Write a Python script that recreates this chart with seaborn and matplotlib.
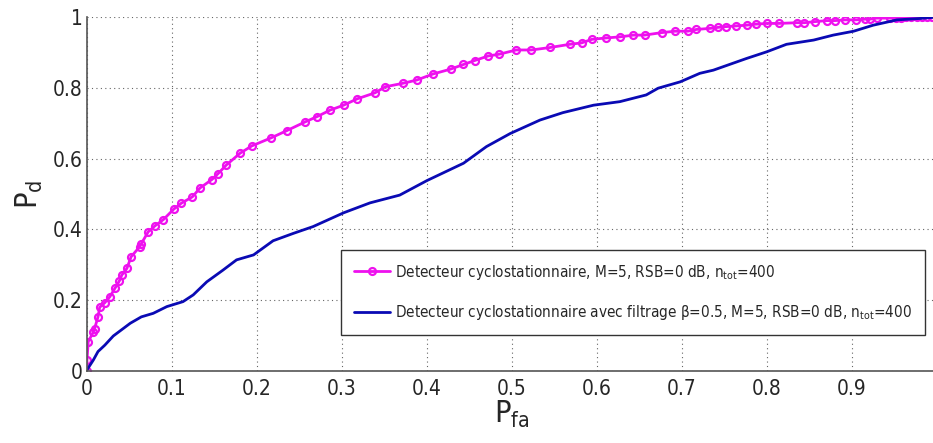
import numpy as np
import pandas as pd
import matplotlib
matplotlib.use('Agg')
import matplotlib.pyplot as plt
import seaborn as sns

# Courbes ROC
pfa_cyclo = [0.0, 0.0, 0.0015, 0.0075, 0.009, 0.013, 0.015, 0.021, 0.027, 0.033, 0.038,
             0.041, 0.047, 0.052, 0.062, 0.064, 0.072, 0.080, 0.090, 0.102, 0.111,
             0.124, 0.133, 0.147, 0.154, 0.164, 0.180, 0.194, 0.217, 0.235, 0.256,
             0.271, 0.286, 0.302, 0.318, 0.339, 0.351, 0.372, 0.388, 0.407, 0.428,
             0.443, 0.456, 0.472, 0.485, 0.505, 0.523, 0.545, 0.568, 0.582, 0.594,
             0.611, 0.627, 0.643, 0.656, 0.676, 0.692, 0.707, 0.717, 0.733, 0.743,
             0.752, 0.764, 0.776, 0.787, 0.800, 0.814, 0.835, 0.844, 0.856, 0.871,
             0.880, 0.892, 0.905, 0.915, 0.921, 0.929, 0.945, 0.952, 0.958, 0.964,
             0.970, 0.976, 0.982, 0.988, 0.994, 1.0]
pd_cyclo = [0.0, 0.03, 0.083, 0.11, 0.12, 0.153, 0.18, 0.193, 0.21, 0.234, 0.254,
            0.271, 0.29, 0.323, 0.351, 0.36, 0.393, 0.41, 0.428, 0.457, 0.474,
            0.492, 0.517, 0.541, 0.557, 0.582, 0.615, 0.636, 0.659, 0.679, 0.703,
            0.719, 0.737, 0.751, 0.769, 0.786, 0.803, 0.813, 0.822, 0.839, 0.853,
            0.866, 0.877, 0.890, 0.895, 0.907, 0.907, 0.914, 0.923, 0.927, 0.937,
            0.941, 0.944, 0.949, 0.949, 0.956, 0.960, 0.960, 0.965, 0.968, 0.971,
            0.973, 0.975, 0.977, 0.980, 0.982, 0.982, 0.984, 0.984, 0.987, 0.990,
            0.990, 0.992, 0.992, 0.994, 0.994, 0.997, 0.997, 0.998, 0.998, 0.999,
            0.999, 0.999, 1.0, 1.0, 1.0, 1.0]

pfa_filtre = [0.0, 0.0075, 0.013, 0.021, 0.031, 0.051, 0.064, 0.078, 0.094, 0.113,
              0.125, 0.141, 0.160, 0.176, 0.196, 0.219, 0.243, 0.266, 0.302, 0.333,
              0.368, 0.400, 0.443, 0.470, 0.498, 0.533, 0.560, 0.596, 0.627, 0.658,
              0.672, 0.698, 0.721, 0.737, 0.776, 0.800, 0.823, 0.855, 0.878, 0.902,
              0.925, 0.953, 0.980, 1.0]
pd_filtre = [0.003, 0.031, 0.055, 0.073, 0.099, 0.135, 0.153, 0.163, 0.182, 0.196,
             0.215, 0.252, 0.285, 0.314, 0.328, 0.368, 0.389, 0.408, 0.447, 0.475,
             0.497, 0.538, 0.587, 0.634, 0.671, 0.709, 0.730, 0.751, 0.761, 0.780,
             0.799, 0.817, 0.841, 0.850, 0.883, 0.902, 0.923, 0.935, 0.949, 0.960,
             0.977, 0.992, 0.996, 1.0]

label_cyclo = r'Detecteur cyclostationnaire, M=5, RSB=0 dB, n$_{\mathregular{tot}}$=400'
label_filtre = (r'Detecteur cyclostationnaire avec filtrage $\mathregular{\beta}$=0.5, '
                r'M=5, RSB=0 dB, n$_{\mathregular{tot}}$=400')

sns.set_style('white')
plt.rcParams['font.family'] = ['DejaVu Sans']
plt.rcParams['font.stretch'] = 'condensed'
plt.rcParams['xtick.direction'] = 'in'
plt.rcParams['ytick.direction'] = 'in'

fig = plt.figure(figsize=(9.33, 4.43), dpi=100)
ax = fig.add_axes([0.0932, 0.1625, 0.911, 0.799])

df1 = pd.DataFrame({'pfa': pfa_cyclo, 'pd': pd_cyclo})
df2 = pd.DataFrame({'pfa': pfa_filtre, 'pd': pd_filtre})

sns.lineplot(data=df1, x='pfa', y='pd', ax=ax, sort=False, estimator=None,
             color='#ee11ee', linewidth=2, marker='o', markersize=5,
             markerfacecolor='none', markeredgecolor='#ee11ee', markeredgewidth=1.6,
             label=label_cyclo)
sns.lineplot(data=df2, x='pfa', y='pd', ax=ax, sort=False, estimator=None,
             color='#0a0ab4', linewidth=2, label=label_filtre)

ax.set_xlim(0, 1)
ax.set_ylim(0, 1)
ax.set_xticks(np.arange(0, 1.0, 0.1))
ax.set_xticklabels(['0', '0.1', '0.2', '0.3', '0.4', '0.5', '0.6', '0.7', '0.8', '0.9'])
ax.set_yticks([0, 0.2, 0.4, 0.6, 0.8, 1])
ax.set_yticklabels(['0', '0.2', '0.4', '0.6', '0.8', '1'])
ax.tick_params(labelsize=15, length=4, color='#555555')
ax.tick_params(axis='x', pad=6)
ax.tick_params(axis='y', pad=3)
ax.grid(True, linestyle=(0, (1, 3)), color='#666666', linewidth=0.8)

for s in ['top', 'right']:
    ax.spines[s].set_visible(False)
for s in ['left', 'bottom']:
    ax.spines[s].set_color('#555555')
    ax.spines[s].set_linewidth(1.2)

ax.set_xlabel(r'P$_{\mathregular{fa}}$', fontsize=22, labelpad=0)
ax.set_ylabel(r'P$_{\mathregular{d}}$', fontsize=22, labelpad=6)

leg = ax.legend(loc='lower right', bbox_to_anchor=(0.995, 0.08), fontsize=11,
                frameon=True, fancybox=False, framealpha=1, edgecolor='#333333',
                handlelength=2.4, handletextpad=0.3, borderpad=0.85, labelspacing=1.4)
leg.get_frame().set_linewidth(1.0)

fig.savefig('out.png', dpi=100)
